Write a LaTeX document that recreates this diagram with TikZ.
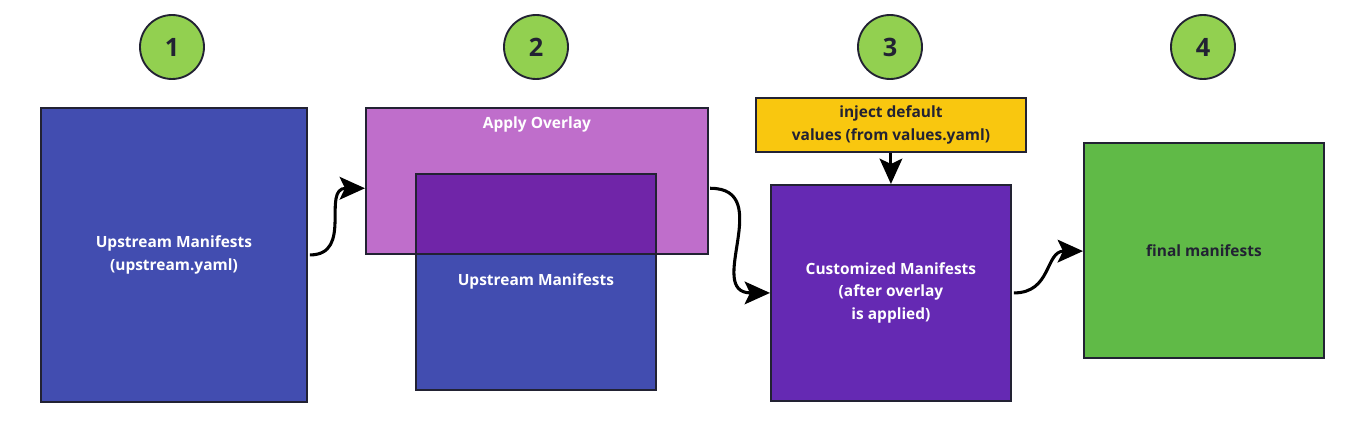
\documentclass[tikz,border=0pt]{standalone}
\usepackage{fontspec}
\setmainfont{Open Sans}
\usetikzlibrary{arrows.meta}

\definecolor{upblue}{HTML}{424DB0}
\definecolor{overpink}{HTML}{BF6ECB}
\definecolor{overmix}{HTML}{7025A8}
\definecolor{custpurple}{HTML}{6529B3}
\definecolor{injyellow}{HTML}{F9C70F}
\definecolor{finalgreen}{HTML}{60BA47}
\definecolor{stepgreen}{HTML}{92D050}
\definecolor{edge}{HTML}{222233}

\tikzset{
  box/.style={draw=edge, line width=1.4pt, inner sep=0pt, anchor=north west,
    font=\bfseries\fontsize{11.6}{17}\selectfont, align=center},
  stepnum/.style={circle, draw=edge, line width=1.4pt, fill=stepgreen,
    minimum size=48pt, inner sep=0pt, font=\bfseries\fontsize{19}{19}\selectfont, text=edge},
  flow/.style={line width=2.3pt, -{Stealth[length=19pt, width=17pt, inset=4pt]}}
}

\begin{document}
\begin{tikzpicture}[x=0.75pt, y=-0.75pt]
  \useasboundingbox (0,0) rectangle (1368,445);

  % step numbers
  \node[stepnum] (n1) at (172,47) {1};
  \node[stepnum] (n2) at (536,47) {2};
  \node[stepnum] (n3) at (890,47) {3};
  \node[stepnum] (n4) at (1203,47) {4};

  % boxes
  \node[box, fill=upblue, text=white, minimum width=199.5pt, minimum height=220.5pt]
    (upstream) at (40,107) {Upstream Manifests\\(upstream.yaml)};
  \node[box, fill=upblue, text=white, minimum width=180pt, minimum height=162pt]
    (inner) at (415,173) {Upstream Manifests};
  \node[box, fill=overpink, minimum width=256.5pt, minimum height=109.5pt,
    label={[text=white, font=\bfseries\fontsize{11.6}{17}\selectfont, anchor=north, yshift=-3.5pt]north:Apply Overlay}]
    (overlay) at (365,107) {};
  \node[box, fill=overmix, minimum width=180pt, minimum height=60pt]
    (mix) at (415,173) {}; % overlap of overlay and upstream
  \node[box, fill=injyellow, text=edge, minimum width=202.5pt, minimum height=40.5pt]
    (inject) at (755,97) {inject default\\values (from values.yaml)};
  \node[box, fill=custpurple, text=white, minimum width=180pt, minimum height=162pt]
    (custom) at (770,184) {Customized Manifests\\(after overlay\\is applied)};
  \node[box, fill=finalgreen, text=edge, minimum width=180pt, minimum height=161.25pt]
    (final) at (1083,142) {final manifests};

  % connectors
  \coordinate (a1) at (upstream.east);
  \coordinate (b1) at ([yshift=-5.5pt]overlay.west);
  \draw[flow] ([xshift=1.5pt]a1) to[out=0, in=180, looseness=1.3] (b1);
  \draw[flow] ([xshift=1pt, yshift=-5.5pt]overlay.east) to[out=0, in=180, looseness=1.4] (custom.west);
  \draw[flow] (inject.south) -- (custom.north);
  \draw[flow] ([xshift=1.5pt]custom.east) to[out=0, in=180, looseness=1.2] ([yshift=-0.5pt]final.west);
\end{tikzpicture}
\end{document}
